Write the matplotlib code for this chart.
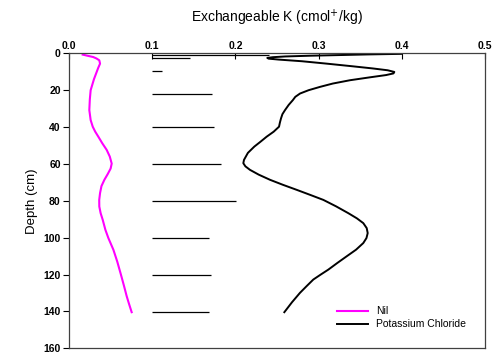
import matplotlib.pyplot as plt

plt.rcParams['font.family'] = ['Liberation Sans', 'DejaVu Sans']

# Nil treatment
nil_depth = [0.7, 1.3, 2.0, 2.8, 3.8, 5.6, 8.0, 11.0, 14.0, 17.0, 20.0, 25.0, 30.8, 36.2,
             39.8, 42.5, 45.2, 48.8, 52.4, 56.0, 59.8, 62.5, 65.5, 68.6, 72.0, 75.8, 79.5,
             83.1, 86.7, 90.3, 95.7, 100.2, 106.5, 113.0, 120.2, 126.0, 131.7, 136.0, 140.4]
nil_k = [0.0164, 0.022, 0.029, 0.033, 0.0364, 0.0373, 0.035, 0.0325, 0.030, 0.028, 0.026,
         0.025, 0.0244, 0.026, 0.0285, 0.0315, 0.0352, 0.040, 0.0453, 0.049, 0.0513, 0.050,
         0.0465, 0.0425, 0.039, 0.0373, 0.0363, 0.0364, 0.038, 0.0405, 0.0437, 0.0473,
         0.0533, 0.058, 0.0625, 0.066, 0.0693, 0.0722, 0.0753]

# Potassium chloride treatment
kcl_depth = [0.3, 0.6, 0.9, 1.3, 1.7, 2.1, 2.5, 2.9, 3.4, 4.3, 5.6, 7.0, 8.2, 9.2, 10.1,
             10.9, 11.8, 13.0, 14.6, 16.4, 18.2, 20.0, 21.8, 23.6, 25.4, 28.0, 30.8, 33.0,
             35.3, 37.5, 39.8, 42.5, 45.2, 48.0, 50.6, 54.0, 57.8, 59.6, 61.3, 63.2, 65.8,
             68.6, 71.3, 74.1, 76.8, 79.5, 83.0, 86.7, 89.5, 92.1, 94.8, 97.5, 100.2, 102.9,
             106.5, 110.1, 113.7, 117.3, 120.0, 122.7, 126.3, 129.9, 135.0, 140.4]
kcl_k = [0.400, 0.360, 0.330, 0.290, 0.260, 0.245, 0.2383, 0.240, 0.252, 0.280, 0.3097,
         0.340, 0.365, 0.383, 0.391, 0.390, 0.381, 0.362, 0.3377, 0.317, 0.3017, 0.288,
         0.2777, 0.272, 0.269, 0.264, 0.2596, 0.2565, 0.2548, 0.2535, 0.2524, 0.246,
         0.2376, 0.230, 0.2227, 0.215, 0.2103, 0.2095, 0.212, 0.2175, 0.228, 0.2416, 0.257,
         0.274, 0.290, 0.3057, 0.321, 0.3357, 0.346, 0.3537, 0.3578, 0.359, 0.3575, 0.3537,
         0.345, 0.3337, 0.3225, 0.3117, 0.3025, 0.2936, 0.2855, 0.2776, 0.268, 0.2588]

# LSD bars, drawn from 0.1
lsd_depth = [1.0, 2.7, 9.6, 22.2, 39.8, 59.8, 80.0, 100.2, 120.2, 140.4]
lsd_end = [0.240, 0.1455, 0.1122, 0.1715, 0.1747, 0.1823, 0.2007, 0.168, 0.1707, 0.1686]

fig = plt.figure(figsize=(4.93, 3.54), dpi=100)
ax = fig.add_axes([0.14, 0.016, 0.8438, 0.8334])

ax.hlines(lsd_depth, 0.1, lsd_end, colors='black', linewidth=0.9)
ax.plot(nil_k, nil_depth, color='magenta', linewidth=1.5, label='Nil')
ax.plot(kcl_k, kcl_depth, color='black', linewidth=1.4, label='Potassium Chloride')

ax.set_xlim(0, 0.5)
ax.set_ylim(160, 0)
ax.xaxis.set_ticks_position('top')
ax.xaxis.set_label_position('top')
ax.set_xticks([0.0, 0.1, 0.2, 0.3, 0.4, 0.5])
ax.set_xticklabels(['0.0', '0.1', '0.2', '0.3', '0.4', '0.5'])
ax.set_yticks(range(0, 161, 20))
ax.tick_params(axis='x', direction='in', length=4, pad=2, labelsize=7.5, width=0.8)
ax.tick_params(axis='y', direction='out', length=4, pad=2, labelsize=7.5, width=0.8)
for lab in ax.get_xticklabels() + ax.get_yticklabels():
    lab.set_fontweight('bold')
for sp in ax.spines.values():
    sp.set_linewidth(0.9)
    sp.set_color('#404040')

ax.set_xlabel('Exchangeable K (cmol$^{+}$/kg)', fontsize=10, labelpad=13)
ax.set_ylabel('Depth (cm)', fontsize=9.5, labelpad=4)

ax.legend(loc='lower right', frameon=False, fontsize=7.5, handlelength=3.0,
          bbox_to_anchor=(0.965, 0.05), borderaxespad=0, handletextpad=0.8, labelspacing=0.3)

fig.savefig('out.png', dpi=100)
